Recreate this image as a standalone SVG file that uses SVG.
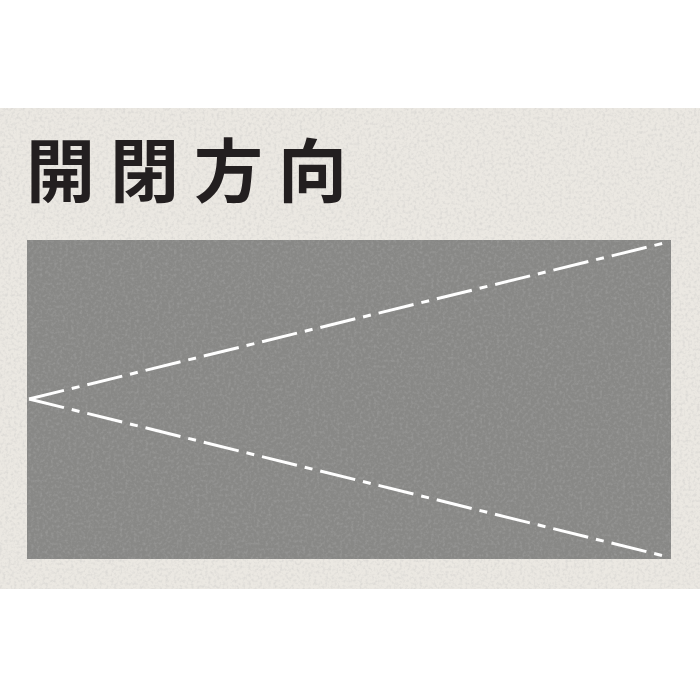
<svg xmlns="http://www.w3.org/2000/svg" width="700" height="700" viewBox="0 0 700 700">
  <defs>
    <filter id="speckle" x="0" y="0" width="100%" height="100%">
      <feTurbulence type="fractalNoise" baseFrequency="0.35" numOctaves="2" seed="4" result="n"/>
      <feColorMatrix in="n" type="matrix" values="0 0 0 0 0.5  0 0 0 0 0.5  0 0 0 0 0.5  0 0 0 -2.2 1.25" result="m"/>
      <feComposite in="m" in2="SourceGraphic" operator="in"/>
    </filter>
    <style>
      .title { font-family: "Noto Sans CJK JP", "Noto Sans CJK SC", sans-serif; font-size: 69px; font-weight: 700; fill: #231f20; letter-spacing: 15px; }
      .guide { fill: none; stroke: #ffffff; stroke-width: 3; stroke-dasharray: 36 8 8 8; }
    </style>
  </defs>
  <rect x="0" y="0" width="700" height="700" fill="#ffffff"/>
  <rect id="background" x="0" y="108" width="700" height="481" fill="#ebe8e2"/>
  <rect x="0" y="108" width="700" height="481" fill="#d8d4cc" filter="url(#speckle)" opacity="0.35"/>
  <g id="title">
    <text class="title" x="26" y="197">開閉方向</text>
  </g>
  <g id="panel">
    <rect x="27" y="240" width="644" height="319" fill="#888886"/>
    <rect x="27" y="240" width="644" height="319" fill="#6e6e6c" filter="url(#speckle)" opacity="0.3"/>
  </g>
  <g id="connectors">
    <line class="guide" x1="29" y1="399" x2="668" y2="242"/>
    <line class="guide" x1="29" y1="399" x2="668" y2="557"/>
  </g>
</svg>
